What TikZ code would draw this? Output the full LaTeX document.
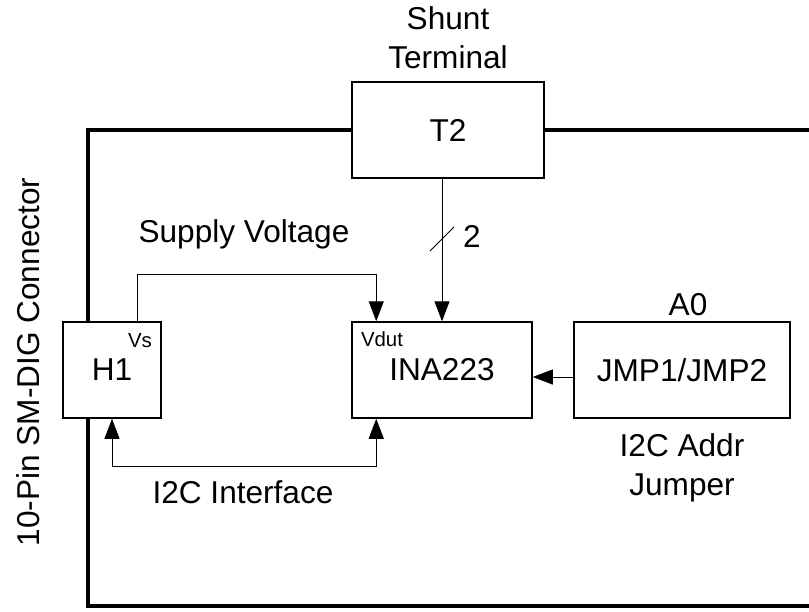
\documentclass[tikz,border=0pt]{standalone}
\usepackage{fontspec}
\setmainfont{Liberation Sans}
\usetikzlibrary{arrows.meta}

\begin{document}
\begin{tikzpicture}[
	x=0.5pt, y=-0.5pt,
	block/.style={ draw, line width=0.75pt, fill=white, inner sep=0pt, minimum height=48pt, font=\fontsize{15.8}{19.5}\selectfont },
	caption/.style={ inner sep=0pt, align=center, font=\fontsize{15.8}{19.5}\selectfont },
	pintag/.style={ inner sep=0pt, anchor=base, font=\fontsize{10.2}{12}\selectfont },
	wire/.style={ line width=0.5pt },
	arrowwire/.style={ line width=0.5pt, -{Triangle[length=10pt,width=7.5pt]} },
	bothwire/.style={ line width=0.5pt, {Triangle[length=10pt,width=7.5pt]}-{Triangle[length=10pt,width=7.5pt]} },
	buswire/.style={ line width=2.25pt }
]
\useasboundingbox (0,0) rectangle (809,611);

% connector frame
\coordinate (topleft) at (88,130);
\coordinate (topright) at (809,130);
\coordinate (botleft) at (88,606);
\coordinate (botright) at (809,606);
\node at (448,130) (shunt) [block,minimum width=96pt] {T2};
\draw[buswire] (shunt.west) -- (topleft) -- (botleft) -- (botright);
\draw[buswire] (shunt.east) -- (topright);

\node at (448,37.5) (shuntcap) [caption] {Shunt\\Terminal};
\node at (28,362) (conncap) [caption,rotate=90] {10-Pin SM-DIG Connector};

% blocks
\node at (112,370) (header) [block,minimum width=49pt] {H1};
\node at (442,370) (monitor) [block,minimum width=90pt] {INA223};
\node at (682,370) (jumper) [block,minimum width=108pt] {JMP1/JMP2};

\node at (140,347) (vs) [pintag] {Vs};
\node at (382,346) (vdut) [pintag] {Vdut};

% supply voltage
\draw[arrowwire] ([xshift=12.5pt]header.north) -- ++(0,-47) -| ([xshift=12.5pt]monitor.north west);
\node at (244,242) (supplycap) [caption,anchor=base] {Supply Voltage};

% shunt sense
\draw[arrowwire] (shunt.south -| monitor.north) -- (monitor.north);
\coordinate (slash) at (442,239);
\draw[wire] ([shift={(-12,12)}]slash) -- ([shift={(12,-12)}]slash);
\node at (472,247) (buswidth) [caption,anchor=base] {2};

% i2c
\draw[bothwire] (header.south) -- ++(0,48) -| ([xshift=12.5pt]monitor.south west);
\node at (243,503) (i2ccap) [caption,anchor=base] {I2C Interface};

% address jumper
\draw[arrowwire] ([yshift=-3.5pt]jumper.west) -- ([yshift=-3.5pt]monitor.east);
\node at (688,315) (addrpin) [caption,anchor=base] {A0};
\node at (682,468) (jumpercap) [caption] {I2C Addr\\Jumper};

\end{tikzpicture}
\end{document}
